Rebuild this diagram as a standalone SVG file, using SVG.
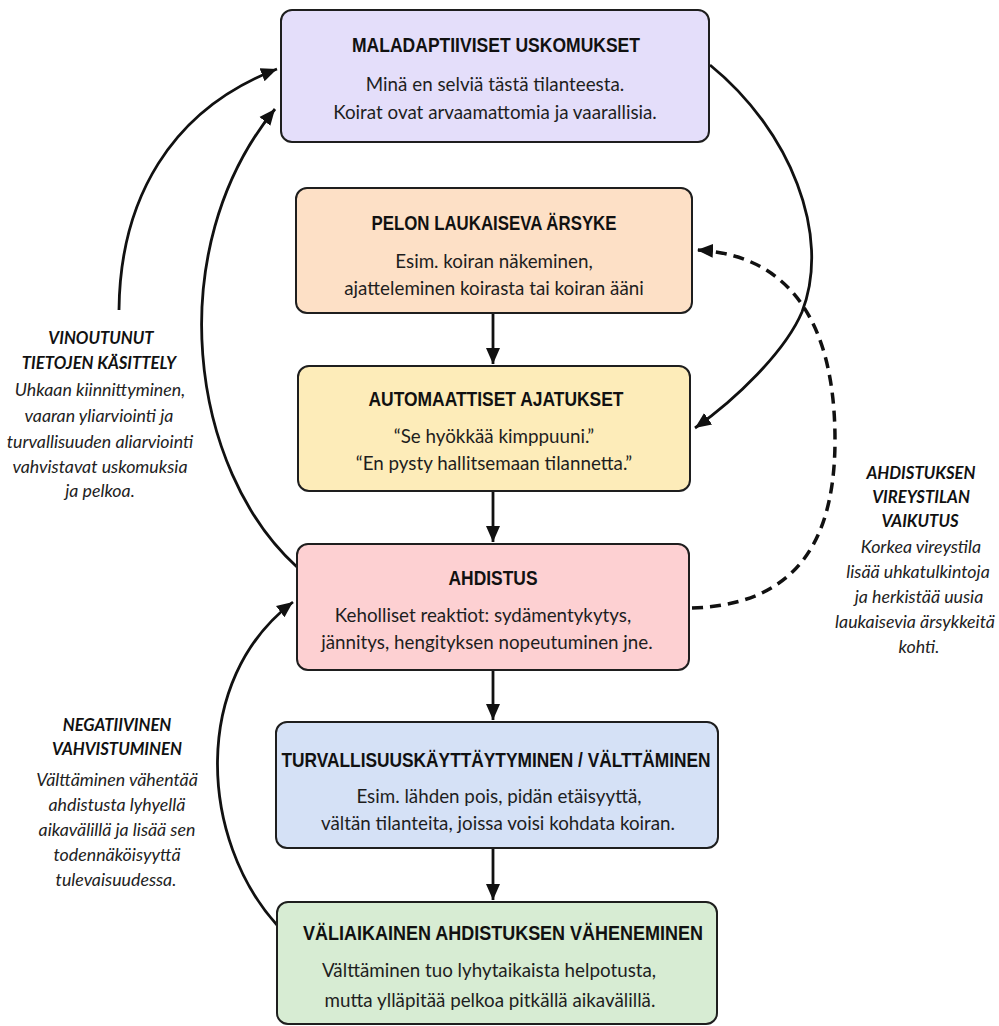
<svg xmlns="http://www.w3.org/2000/svg" width="999" height="1026" viewBox="0 0 999 1026">
<style>
.box{stroke:#1e1e1e;stroke-width:2}
.title{font-family:"Liberation Sans",Arial,sans-serif;font-weight:bold;font-size:21px;fill:#111;text-anchor:middle}
.body{font-family:Lato,"Liberation Sans",sans-serif;font-size:18.8px;fill:#1e1e1e;text-anchor:middle}
.lh{font-family:Lato,"Liberation Sans",sans-serif;font-weight:bold;font-style:italic;font-size:16.7px;fill:#111;text-anchor:middle}
.lb{font-family:Lato,"Liberation Sans",sans-serif;font-style:italic;font-size:17.8px;fill:#222;text-anchor:middle}
.c{fill:none;stroke:#111;stroke-width:2.8}
.d{fill:none;stroke:#111;stroke-width:3.5;stroke-dasharray:11 7}
</style>
<defs>
<marker id="ah" markerUnits="userSpaceOnUse" markerWidth="18" markerHeight="16" refX="16" refY="7" orient="auto" viewBox="0 0 18 14">
<path d="M0,0 L16,7 L0,14 z" fill="#111"/>
</marker>
</defs>
<rect width="999" height="1026" fill="#fff"/>

<g id="connectors">
<path class="c" d="M493,313 L493,364" marker-end="url(#ah)"/>
<path class="c" d="M493,491 L493,542" marker-end="url(#ah)"/>
<path class="c" d="M493,670 L493,720" marker-end="url(#ah)"/>
<path class="c" d="M493,848 L493,900" marker-end="url(#ah)"/>
<path class="c" d="M119,310 C120,200 170,110 277,69" marker-end="url(#ah)"/>
<path class="c" d="M297,567 C190,470 160,250 275,109" marker-end="url(#ah)"/>
<path class="c" d="M277,925 C200,840 190,680 293,602" marker-end="url(#ah)"/>
<path class="c" d="M710,65 C790,130 832,235 802,312 C785,352 735,400 695,428" marker-end="url(#ah)"/>
<path class="d" d="M692,608 C780,605 835,560 835,440 C835,330 795,255 697,250" marker-end="url(#ah)"/>
</g>

<g id="maladaptiiviset">
<rect class="box" x="281" y="10" width="428" height="132" rx="11" fill="#e4defa"/>
<text class="title" x="496" y="52" textLength="288" lengthAdjust="spacingAndGlyphs">MALADAPTIIVISET USKOMUKSET</text>
<text class="body" x="495" y="91">Minä en selviä tästä tilanteesta.</text>
<text class="body" x="495" y="119">Koirat ovat arvaamattomia ja vaarallisia.</text>
</g>

<g id="pelon">
<rect class="box" x="296" y="188" width="396" height="125" rx="11" fill="#fde0c6"/>
<text class="title" x="494" y="230" textLength="245" lengthAdjust="spacingAndGlyphs">PELON LAUKAISEVA ÄRSYKE</text>
<text class="body" x="494" y="268">Esim. koiran näkeminen,</text>
<text class="body" x="494" y="295">ajatteleminen koirasta tai koiran ääni</text>
</g>

<g id="automaattiset">
<rect class="box" x="298" y="366" width="392" height="125" rx="11" fill="#fdecb9"/>
<text class="title" x="496" y="406" textLength="255" lengthAdjust="spacingAndGlyphs">AUTOMAATTISET AJATUKSET</text>
<text class="body" x="494" y="443">“Se hyökkää kimppuuni.”</text>
<text class="body" x="494" y="470">“En pysty hallitsemaan tilannetta.”</text>
</g>

<g id="ahdistus">
<rect class="box" x="297" y="544" width="392" height="126" rx="11" fill="#fdd0d2"/>
<text class="title" x="493" y="585" textLength="89" lengthAdjust="spacingAndGlyphs">AHDISTUS</text>
<text class="body" x="483" y="622">Keholliset reaktiot: sydämentykytys,</text>
<text class="body" x="487" y="649">jännitys, hengityksen nopeutuminen jne.</text>
</g>

<g id="turvallisuus">
<rect class="box" x="276" y="722" width="442" height="126" rx="11" fill="#d5e1f6"/>
<text class="title" x="496" y="767" textLength="429" lengthAdjust="spacingAndGlyphs">TURVALLISUUSKÄYTTÄYTYMINEN / VÄLTTÄMINEN</text>
<text class="body" x="499" y="803">Esim. lähden pois, pidän etäisyyttä,</text>
<text class="body" x="498" y="830">vältän tilanteita, joissa voisi kohdata koiran.</text>
</g>

<g id="valiaikainen">
<rect class="box" x="277" y="902" width="440" height="122" rx="11" fill="#d7ecd3"/>
<text class="title" x="503" y="940" textLength="400" lengthAdjust="spacingAndGlyphs">VÄLIAIKAINEN AHDISTUKSEN VÄHENEMINEN</text>
<text class="body" x="489" y="977">Välttäminen tuo lyhytaikaista helpotusta,</text>
<text class="body" x="490" y="1007">mutta ylläpitää pelkoa pitkällä aikavälillä.</text>
</g>

<g id="label-vinoutunut">
<text class="lh" x="101" y="344">VINOUTUNUT</text>
<text class="lh" x="99" y="369">TIETOJEN KÄSITTELY</text>
<text class="lb" x="100" y="396">Uhkaan kiinnittyminen,</text>
<text class="lb" x="99" y="422">vaaran yliarviointi ja</text>
<text class="lb" x="100" y="448">turvallisuuden aliarviointi</text>
<text class="lb" x="100" y="473">vahvistavat uskomuksia</text>
<text class="lb" x="100" y="497">ja pelkoa.</text>
</g>

<g id="label-vireystila">
<text class="lh" x="921" y="479">AHDISTUKSEN</text>
<text class="lh" x="921" y="503">VIREYSTILAN</text>
<text class="lh" x="920" y="527">VAIKUTUS</text>
<text class="lb" x="921" y="553">Korkea vireystila</text>
<text class="lb" x="918" y="578">lisää uhkatulkintoja</text>
<text class="lb" x="919" y="603">ja herkistää uusia</text>
<text class="lb" x="915" y="628">laukaisevia ärsykkeitä</text>
<text class="lb" x="919" y="653">kohti.</text>
</g>

<g id="label-negatiivinen">
<text class="lh" x="117" y="731">NEGATIIVINEN</text>
<text class="lh" x="117" y="755">VAHVISTUMINEN</text>
<text class="lb" x="117" y="786">Välttäminen vähentää</text>
<text class="lb" x="117" y="811">ahdistusta lyhyellä</text>
<text class="lb" x="117" y="836">aikavälillä ja lisää sen</text>
<text class="lb" x="117" y="861">todennäköisyyttä</text>
<text class="lb" x="116" y="886">tulevaisuudessa.</text>
</g>
</svg>
